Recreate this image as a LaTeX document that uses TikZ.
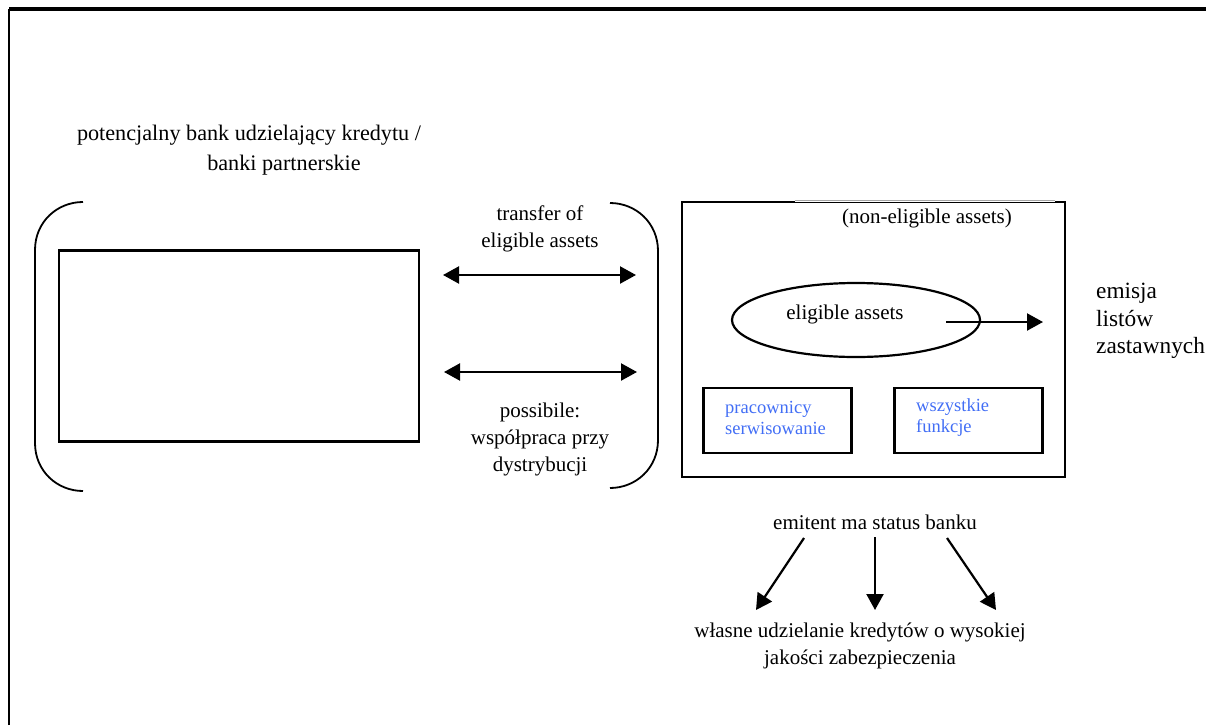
\documentclass[tikz,border=0pt]{standalone}
\usepackage{fontspec}
\setmainfont{Liberation Serif}
\usetikzlibrary{arrows.meta,shapes.geometric,calc}
\definecolor{txtblue}{RGB}{66,110,245}
\begin{document}
\begin{tikzpicture}[x=1pt,y=-1pt,
  lbl/.style={font=\fontsize{21}{27}\selectfont, align=center, inner sep=0pt},
  ttl/.style={font=\fontsize{22.2}{30}\selectfont, inner sep=0pt},
  bluelbl/.style={font=\fontsize{18.5}{21}\selectfont, text=txtblue, align=left, inner sep=0pt},
  box/.style={draw, line width=2.3pt, inner sep=0pt},
  bracket/.style={line width=1.8pt},
  arr/.style={line width=2.2pt, -{Triangle[length=16pt,width=17pt]}},
  darr/.style={line width=2.2pt, {Triangle[length=16pt,width=17pt]}-{Triangle[length=16pt,width=17pt]}}]
\useasboundingbox (0,0) rectangle (1206,725);
% outer frame (open on right and bottom)
\coordinate (fbl) at (9,725);
\coordinate (ftl) at (9,9);
\coordinate (ftr) at (1206,9);
\draw[line width=2.4pt] (fbl) -- (ftl);
\draw[line width=3.2pt] (ftl) -- (ftr);

% title
\node[ttl] (t1) at (249,135) {potencjalny bank udzielający kredytu /};
\node[ttl] (t2) at (284,165) {banki partnerskie};

% left bracket and box
\coordinate (lb1) at (83,202);
\coordinate (lb2) at (35,250);
\coordinate (lb3) at (35,443);
\coordinate (lb4) at (83,491);
\draw[bracket] (lb1) .. controls (57,202) and (35,222) .. (lb2) -- (lb3) .. controls (35,471) and (57,491) .. (lb4);
\node[box, minimum width=360pt, minimum height=191pt] (lbox) at (239,346) {};

% right bracket
\coordinate (rb1) at (610,203);
\coordinate (rb2) at (658,251);
\coordinate (rb3) at (658,440);
\coordinate (rb4) at (610,488);
\draw[bracket] (rb1) .. controls (636,203) and (658,223) .. (rb2) -- (rb3) .. controls (658,468) and (636,488) .. (rb4);

% double arrows
\coordinate (a1l) at (443,275);
\coordinate (a1r) at (636,275);
\coordinate (a2l) at (444,372);
\coordinate (a2r) at (637,372);
\draw[darr] (a1l) -- (a1r);
\draw[darr] (a2l) -- (a2r);
\node[lbl] (transfer) at (540,229) {transfer of\\eligible assets};
\node[lbl] (possib) at (540,439) {possibile:\\współpraca przy\\dystrybucji};

% right box
\node[box, minimum width=383pt, minimum height=275pt] (rbox) at (873.5,339.5) {};
\draw[white, line width=2.9pt] ($(rbox.north west)+(114,0)$) -- ($(rbox.north west)+(374,0)$);
\draw[gray!70, line width=0.7pt] ($(rbox.north west)+(114,-0.9)$) -- ($(rbox.north west)+(374,-0.9)$);
\node[lbl] (noneli) at (927,218) {(non-eligible assets)};

% ellipse
\node[ellipse, draw, line width=2.2pt, minimum width=248pt, minimum height=74pt, inner sep=0pt] (ell) at (856,320) {};
\node[lbl] (eli) at (845,314) {eligible assets};
\coordinate (ea1) at (946,322);
\coordinate (ea2) at (1043,322);
\draw[arr] (ea1) -- (ea2);
\node[lbl, align=left, anchor=west, font=\fontsize{23.3}{27.5}\selectfont] (emisja) at (1096,321) {emisja\\listów\\zastawnych};

% small boxes
\node[box, minimum width=148pt, minimum height=65pt] (sb1) at (777.5,420.5) {};
\node[box, minimum width=148pt, minimum height=65pt] (sb2) at (968.5,420.5) {};
\node[bluelbl, anchor=west] (prac) at (725,418) {pracownicy\\serwisowanie};
\node[bluelbl, anchor=west] (wsz) at (916,418) {wszystkie\\funkcje};

% bottom
\node[lbl] (emitent) at (875,522) {emitent ma status banku};
\coordinate (d1s) at (804,538);
\coordinate (d1e) at (756,610);
\coordinate (d2s) at (875,537);
\coordinate (d2e) at (875,610);
\coordinate (d3s) at (947,538);
\coordinate (d3e) at (996,610);
\draw[arr] (d1s) -- (d1e);
\draw[arr] (d2s) -- (d2e);
\draw[arr] (d3s) -- (d3e);
\node[lbl] (wlasne) at (860,646) {własne udzielanie kredytów o wysokiej\\jakości zabezpieczenia};
\end{tikzpicture}
\end{document}
